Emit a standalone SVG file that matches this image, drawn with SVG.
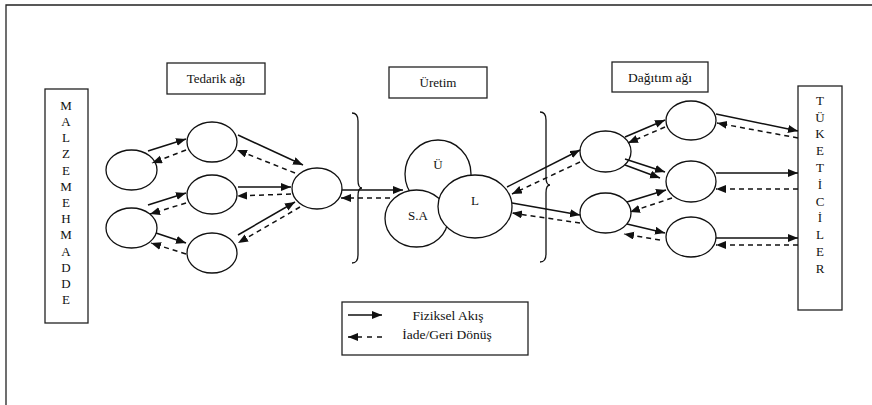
<svg xmlns="http://www.w3.org/2000/svg" width="872" height="405" viewBox="0 0 872 405">
<style>
.box{fill:#fff;stroke:#222;stroke-width:1.3}
.nd{fill:#fff;stroke:#111;stroke-width:1.3}
text{font-family:'Liberation Serif','Times New Roman','DejaVu Serif',serif;font-size:13px;fill:#111;text-anchor:middle}
.s{fill:none;stroke:#111;stroke-width:1.5;marker-end:url(#ah)}
.d{fill:none;stroke:#111;stroke-width:1.5;stroke-dasharray:5 4;marker-end:url(#ah)}
.br{fill:none;stroke:#111;stroke-width:1.3}
</style>
<defs>
<marker id="ah" markerUnits="userSpaceOnUse" markerWidth="11" markerHeight="9" refX="10" refY="4" orient="auto">
<path d="M0,0 L10,4 L0,8 z" fill="#111"/>
</marker>
</defs>
<rect width="872" height="405" fill="#fff"/>
<polyline points="6,405 6,5 872,5" fill="none" stroke="#222" stroke-width="1.3"/>

<g id="malzeme">
<rect class="box" x="45" y="89" width="43" height="234"/>
<text font-family="Liberation Serif, serif"><tspan x="66" y="110">M</tspan><tspan x="66" y="126">A</tspan><tspan x="66" y="142">L</tspan><tspan x="66" y="158">Z</tspan><tspan x="66" y="174.5">E</tspan><tspan x="66" y="190.5">M</tspan><tspan x="66" y="207">E</tspan><tspan x="66" y="223">H</tspan><tspan x="66" y="239">M</tspan><tspan x="66" y="255.5">A</tspan><tspan x="66" y="271.5">D</tspan><tspan x="66" y="287.5">D</tspan><tspan x="66" y="304">E</tspan></text>
</g>
<g id="tedarik-label"><rect class="box" x="167" y="63" width="98" height="31"/><text x="216" y="83">Tedarik ağı</text></g>
<g id="uretim-label"><rect class="box" x="389" y="67" width="98" height="31"/><text x="438" y="87">Üretim</text></g>
<g id="dagitim-label"><rect class="box" x="612" y="62" width="96" height="30"/><text x="660" y="82" style="font-size:13.5px">Dağıtım ağı</text></g>
<g id="tuketiciler">
<rect class="box" x="798" y="86" width="44" height="224"/>
<text><tspan x="820" y="104.5">T</tspan><tspan x="820" y="121.5">Ü</tspan><tspan x="820" y="138">K</tspan><tspan x="820" y="155">E</tspan><tspan x="820" y="172">T</tspan><tspan x="820" y="188.5">İ</tspan><tspan x="820" y="205.5">C</tspan><tspan x="820" y="222">İ</tspan><tspan x="820" y="239">L</tspan><tspan x="820" y="256">E</tspan><tspan x="820" y="272.5">R</tspan></text>
</g>

<g id="s-left-top"><ellipse class="nd" cx="131.5" cy="170" rx="25.5" ry="20"/></g>
<g id="s-left-bottom"><ellipse class="nd" cx="131.5" cy="228" rx="25.5" ry="20"/></g>
<g id="s-mid-top"><ellipse class="nd" cx="212" cy="142" rx="25" ry="20"/></g>
<g id="s-mid-mid"><ellipse class="nd" cx="212" cy="194.5" rx="25" ry="19.5"/></g>
<g id="s-mid-bottom"><ellipse class="nd" cx="212" cy="253" rx="25" ry="20"/></g>
<g id="s-hub"><ellipse class="nd" cx="317" cy="188.5" rx="25" ry="20.5"/></g>

<g id="uretim-U"><ellipse class="nd" cx="438" cy="174" rx="33" ry="34"/><text x="438" y="169">Ü</text></g>
<g id="uretim-SA"><ellipse class="nd" cx="416.5" cy="218.5" rx="31.5" ry="28.5"/><text x="418" y="220">S.A</text></g>
<g id="uretim-L"><ellipse class="nd" cx="475" cy="206.5" rx="37" ry="31.5"/><text x="475" y="205">L</text></g>

<g id="d-left-top"><ellipse class="nd" cx="605.5" cy="151.5" rx="25.5" ry="20.5"/></g>
<g id="d-left-bottom"><ellipse class="nd" cx="605.5" cy="213" rx="25.5" ry="20"/></g>
<g id="d-right-top"><ellipse class="nd" cx="691" cy="120.5" rx="25" ry="19.5"/></g>
<g id="d-right-mid"><ellipse class="nd" cx="691" cy="181.5" rx="25" ry="20.5"/></g>
<g id="d-right-bottom"><ellipse class="nd" cx="691" cy="237" rx="25" ry="20"/></g>

<g id="connectors">
<path class="br" d="M352,113 Q358,113 358,121 L358,180 Q358,188 362,188 Q358,188 358,196 L358,255 Q358,263 352,263"/>
<path class="br" d="M540,112 Q546,112 546,120 L546,177 Q546,185 550,185 Q546,185 546,193 L546,254 Q546,262 540,262"/>

<line class="s" x1="148" y1="151" x2="186" y2="139"/>
<line class="d" x1="186" y1="150" x2="152" y2="163"/>
<line class="s" x1="238" y1="135" x2="303" y2="165"/>
<line class="d" x1="295" y1="173" x2="237" y2="150"/>
<line class="s" x1="238" y1="187" x2="291" y2="187"/>
<line class="d" x1="291" y1="194" x2="237" y2="196"/>
<line class="s" x1="148" y1="205" x2="186" y2="193"/>
<line class="d" x1="186" y1="203" x2="150" y2="214"/>
<line class="s" x1="156" y1="233" x2="186" y2="243"/>
<line class="d" x1="186" y1="254" x2="151" y2="243"/>
<line class="s" x1="238" y1="235" x2="295" y2="202"/>
<line class="d" x1="300" y1="207" x2="238" y2="243"/>

<line class="s" x1="342" y1="190" x2="403" y2="190"/>
<line class="d" x1="390" y1="198" x2="341" y2="198"/>

<line class="s" x1="507" y1="187" x2="580" y2="150"/>
<line class="d" x1="580" y1="162" x2="512" y2="194"/>
<line class="s" x1="512" y1="203" x2="580" y2="215"/>
<line class="d" x1="580" y1="223" x2="512" y2="213"/>

<line class="s" x1="625" y1="137" x2="665" y2="120"/>
<line class="d" x1="665" y1="127" x2="628" y2="143"/>
<line class="s" x1="625" y1="159" x2="665" y2="172"/>
<line class="s" x1="625" y1="165" x2="660" y2="178"/>
<line class="s" x1="627" y1="202" x2="666" y2="190"/>
<line class="d" x1="672" y1="198" x2="630" y2="212"/>
<line class="s" x1="627" y1="224" x2="665" y2="233"/>
<line class="d" x1="660" y1="240" x2="624" y2="234"/>

<line class="s" x1="716" y1="114" x2="798" y2="131"/>
<line class="d" x1="798" y1="138" x2="717" y2="123"/>
<line class="s" x1="716" y1="173" x2="798" y2="173"/>
<line class="d" x1="798" y1="189" x2="716" y2="189"/>
<line class="s" x1="716" y1="238" x2="798" y2="238"/>
<line class="d" x1="798" y1="245" x2="716" y2="245"/>
</g>

<g id="legend">
<rect class="box" x="342" y="302" width="186" height="53"/>
<line class="s" x1="348" y1="315" x2="382" y2="315"/>
<line class="d" x1="382" y1="337" x2="348" y2="337" style="stroke-dasharray:5 5"/>
<text x="448" y="320" style="font-size:13.5px">Fiziksel Akış</text>
<text x="447" y="339" style="font-size:13.5px">İade/Geri Dönüş</text>
</g>
</svg>
